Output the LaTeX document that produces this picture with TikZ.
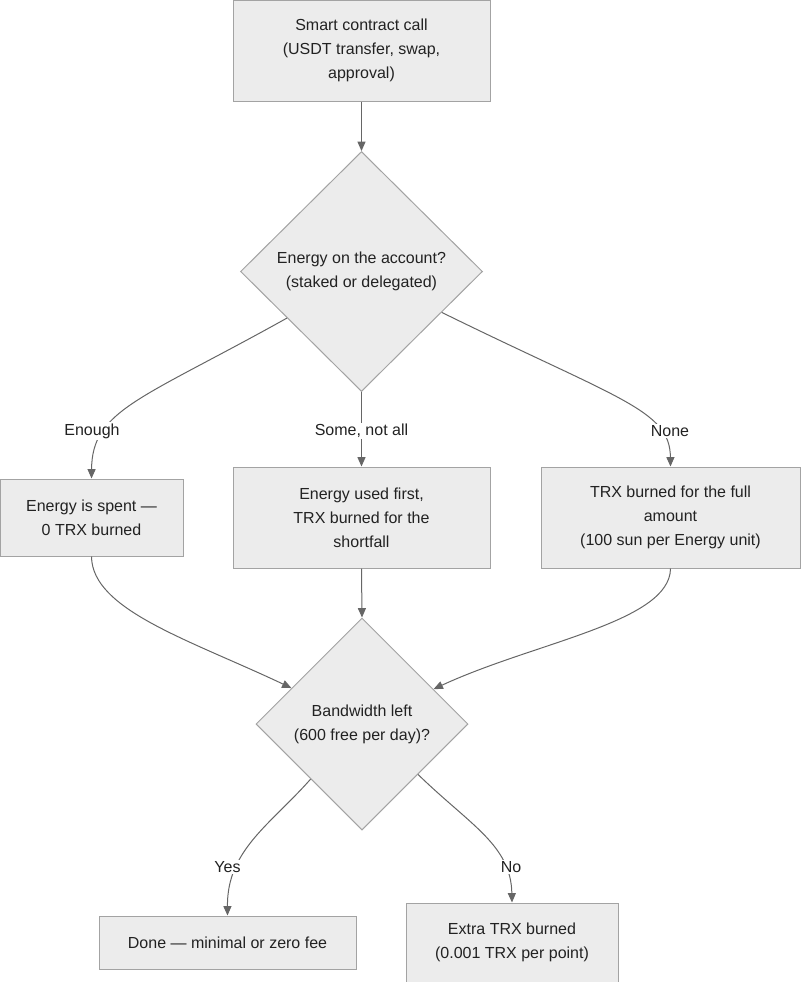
\documentclass[tikz,border=0pt]{standalone}
\usepackage{fontspec}
\setmainfont{Liberation Sans}
\usepackage{xcolor}
\usepackage{tikz}
\usetikzlibrary{shapes,arrows,arrows.meta,positioning}
\definecolor{boxfill}{HTML}{ECECEC}
\definecolor{boxline}{HTML}{A3A3A3}
\definecolor{edgeline}{HTML}{666666}
\definecolor{txt}{HTML}{222222}
\tikzstyle{proc} = [rectangle, draw=boxline, fill=boxfill, line width=0.75pt, align=center, inner sep=0pt]
\tikzstyle{decision} = [diamond, aspect=1, draw=boxline, fill=boxfill, line width=0.75pt, align=center, inner sep=0pt]
\tikzstyle{flow} = [draw=edgeline, line width=0.75pt, -{Triangle[length=7pt,width=6pt]}]
\tikzstyle{lbl} = [fill=white, inner sep=1pt, text=txt]

\begin{document}
\begin{tikzpicture}[x=0.75pt, y=-0.75pt, font=\fontsize{12pt}{18pt}\selectfont, text=txt]
    \useasboundingbox (0,0) rectangle (800,982);
    % boxes and decisions
    \node[proc, minimum width=192.75pt, minimum height=75.75pt] (call) at (361.5,50.5) {Smart contract call\\(USDT transfer, swap,\\approval)};
    \node[decision, minimum width=181.5pt, minimum height=180pt] (energy) at (361.5,271.5) {Energy on the account?\\(staked or delegated)};
    \node[proc, minimum width=137.25pt, minimum height=57.75pt] (spent) at (91.5,517.5) {Energy is spent —\\0 TRX burned};
    \node[proc, minimum width=192.75pt, minimum height=75.75pt] (partial) at (361.5,517.5) {Energy used first,\\TRX burned for the\\shortfall};
    \node[proc, minimum width=194.25pt, minimum height=75.75pt] (full) at (670.5,517.5) {TRX burned for the full\\amount\\(100 sun per Energy unit)};
    \node[decision, minimum width=159pt, minimum height=159pt] (bw) at (362,724) {Bandwidth left\\(600 free per day)?};
    \node[proc, minimum width=192.75pt, minimum height=39.75pt] (done) at (227.5,942.5) {Done — minimal or zero fee};
    \node[proc, minimum width=159pt, minimum height=59.25pt] (extra) at (512,942.5) {Extra TRX burned\\(0.001 TRX per point)};

    % connectors
    \draw[flow] (call.south) -- (energy.north);
    \draw[flow] (energy.212) .. controls (140,400) and (92,410) .. (spent.north);
    \draw[flow] (energy.south) -- (partial.north);
    \draw[flow] (energy.-27) .. controls (620,400) and (670,410) .. (full.north);
    \draw[flow] (spent.south) .. controls (92,610) and (190,640) .. (bw.153);
    \draw[flow] (partial.south) -- (bw.north);
    \draw[flow] (full.south) .. controls (670,622) and (535,642) .. (bw.26);
    \draw[flow] (bw.227) .. controls (270,825) and (227,850) .. (done.north);
    \draw[flow] (bw.-42) .. controls (470,825) and (511,845) .. (extra.north);

    % edge labels
    \node[lbl] (lenough) at (92,431) {Enough};
    \node[lbl] (lsome) at (361.5,431) {Some, not all};
    \node[lbl] (lnone) at (670,431) {None};
    \node[lbl] (lyes) at (227.5,867) {Yes};
    \node[lbl] (lno) at (511,867) {No};
\end{tikzpicture}
\end{document}
